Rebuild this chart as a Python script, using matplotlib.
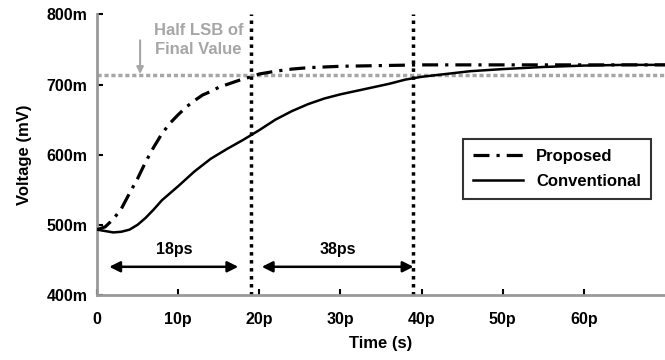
import matplotlib
matplotlib.use('Agg')
import matplotlib.pyplot as plt

plt.rcParams['font.family'] = ['Liberation Sans', 'DejaVu Sans']
plt.rcParams['font.weight'] = 'bold'
plt.rcParams['font.size'] = 12

# time in ps, voltage in mV
t_prop = [0, 1, 2, 3, 4, 5, 6, 7, 8, 9, 10, 11, 12, 13, 14, 15, 16, 17, 18,
          19, 20, 22, 24, 26, 28, 30, 35, 40, 45, 50, 55, 60, 65, 70]
v_prop = [493, 497, 508, 523, 545, 566, 590, 611, 630, 645, 657, 668, 677,
          685, 690, 696, 700, 704, 708, 711, 715, 719, 722, 724, 725, 726,
          727, 728, 728, 728, 728, 728, 728, 728]

t_conv = [0, 1, 2, 3, 4, 5, 6, 7, 8, 10, 12, 14, 16, 18, 20, 22, 24, 26, 28,
          30, 32, 34, 36, 38, 40, 43, 46, 50, 55, 60, 65, 70]
v_conv = [493, 491, 489, 490, 493, 500, 510, 522, 535, 555, 576, 594, 608,
          621, 635, 650, 662, 672, 680, 686, 691, 696, 701, 707, 711, 715,
          719, 722, 725, 727, 728, 728]

half_lsb = 713
settle_times = [19, 39]
spans = [(1.5, 17.4, '18ps'), (20.3, 39.0, '38ps')]

xticks = [0, 10, 20, 30, 40, 50, 60]
xticklabels = ['0', '10p', '20p', '30p', '40p', '50p', '60p']
yticks = [400, 500, 600, 700, 800]
yticklabels = ['400m', '500m', '600m', '700m', '800m']

fig = plt.figure(figsize=(6.65, 3.6), dpi=100)
ax = fig.add_axes([0.146, 0.181, 0.854, 0.779])

gray = '#a6a6a6'
ax.axhline(half_lsb, color=gray, lw=2.5, ls=(0, (1.2, 0.8)), zorder=1)
for x in settle_times:
    ax.axvline(x, color='black', lw=2.5, ls=(0, (1, 1.3)), zorder=2)

ax.plot(t_prop, v_prop, color='black', lw=2.3, ls=(0, (5, 2.2, 1, 2.2)),
        label='Proposed', zorder=3)
ax.plot(t_conv, v_conv, color='black', lw=1.8, label='Conventional', zorder=3)

for x0, x1, lab in spans:
    ax.annotate('', xy=(x1, 440), xytext=(x0, 440),
                arrowprops=dict(arrowstyle='<|-|>', color='black', lw=1.8,
                                mutation_scale=16, shrinkA=0, shrinkB=0))
    ax.text((x0 + x1) / 2, 465, lab, ha='center', va='center', fontsize=11.5,
            fontweight='bold')

ax.annotate('', xy=(5.3, half_lsb + 2), xytext=(5.3, 763),
            arrowprops=dict(arrowstyle='-|>', color=gray, lw=1.5,
                            mutation_scale=10, shrinkA=0, shrinkB=0))
ax.text(12.5, 764, 'Half LSB of\nFinal Value', color=gray, ha='center',
        va='center', fontsize=12, fontweight='bold', linespacing=1.35)

ax.set_xlim(0, 70)
ax.set_ylim(400, 800)
ax.set_xticks(xticks)
ax.set_xticklabels(xticklabels)
ax.set_yticks(yticks)
ax.set_yticklabels(yticklabels)
ax.tick_params(direction='in', length=4, width=1.5, color='black', labelsize=11.5)
ax.tick_params(axis='x', pad=12)
ax.tick_params(axis='y', pad=7)

for s in ['top', 'right']:
    ax.spines[s].set_visible(False)
for s in ['left', 'bottom']:
    ax.spines[s].set_color('#999999')
    ax.spines[s].set_linewidth(2)

ax.set_xlabel('Time (s)', fontsize=12, fontweight='bold', labelpad=7)
ax.set_ylabel('Voltage (mV)', fontsize=12, fontweight='bold', labelpad=10)

leg = ax.legend(loc='upper left', bbox_to_anchor=(0.644, 0.555),
                frameon=True, fancybox=False, fontsize=12, handlelength=3,
                borderpad=0.6, labelspacing=0.6, borderaxespad=0)
leg.get_frame().set_edgecolor('black')
leg.get_frame().set_linewidth(1.5)

fig.savefig('out.png', dpi=100)
